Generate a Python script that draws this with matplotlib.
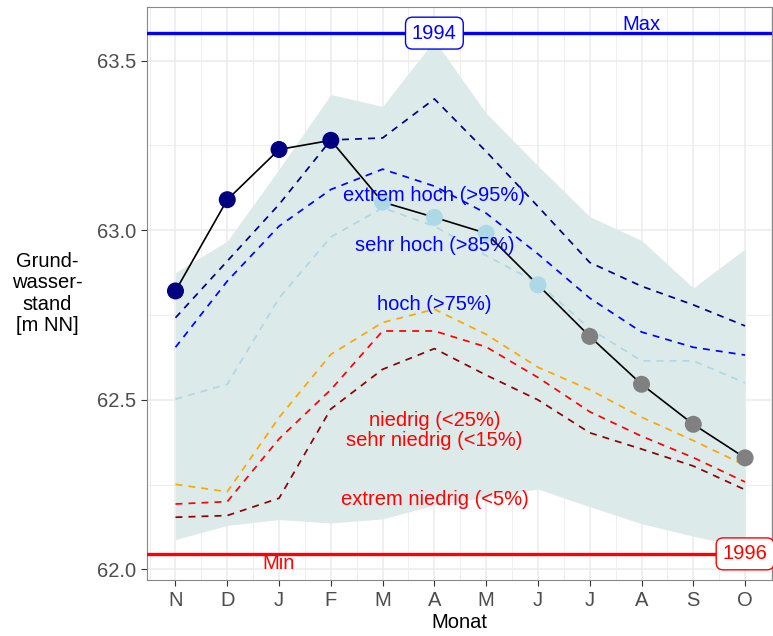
import matplotlib.pyplot as plt
import numpy as np

plt.rcParams['font.family'] = ['Liberation Sans', 'DejaVu Sans']

# Abflussjahr Nov - Okt
monate = ['N', 'D', 'J', 'F', 'M', 'A', 'M', 'J', 'J', 'A', 'S', 'O']

# gemessener Grundwasserstand [m NN] und Einstufung je Monat
gemessen = [62.821, 63.090, 63.238, 63.265, 63.083, 63.038,
            62.991, 62.839, 62.687, 62.546, 62.428, 62.329]
klasse = ['extrem hoch', 'extrem hoch', 'extrem hoch', 'extrem hoch',
          'hoch', 'hoch', 'hoch', 'hoch',
          'normal', 'normal', 'normal', 'normal']

# Spannweite der Monatswerte (Min/Max)
band_max = [62.875, 62.968, 63.180, 63.400, 63.365, 63.560,
            63.345, 63.190, 63.040, 62.970, 62.830, 62.945]
band_min = [62.088, 62.130, 62.147, 62.137, 62.149, 62.190,
            62.213, 62.237, 62.185, 62.135, 62.098, 62.065]

# Perzentile
p95 = [62.742, 62.909, 63.076, 63.266, 63.272, 63.387,
       63.232, 63.070, 62.905, 62.835, 62.780, 62.718]
p85 = [62.655, 62.850, 63.012, 63.120, 63.180, 63.130,
       63.050, 62.930, 62.800, 62.700, 62.655, 62.632]
p75 = [62.502, 62.546, 62.800, 62.980, 63.066, 63.012,
       62.925, 62.845, 62.710, 62.615, 62.615, 62.550]
p25 = [62.251, 62.229, 62.448, 62.634, 62.728, 62.767,
       62.693, 62.596, 62.530, 62.449, 62.380, 62.307]
p15 = [62.193, 62.200, 62.385, 62.530, 62.703, 62.703,
       62.656, 62.566, 62.465, 62.393, 62.330, 62.258]
p05 = [62.154, 62.159, 62.210, 62.473, 62.590, 62.651,
       62.573, 62.500, 62.403, 62.355, 62.305, 62.235]

# historische Extremwerte
hist_max, hist_max_jahr = 63.581, '1994'
hist_min, hist_min_jahr = 62.046, '1996'

klassen_farben = {'extrem hoch': '#000080', 'hoch': '#add8e6', 'normal': '#808080'}

fig = plt.figure(figsize=(7.73, 6.36), dpi=100)
ax = fig.add_axes([147 / 773, 1 - 580 / 636, (772 - 147) / 773, (580 - 7) / 636])

x = np.arange(len(monate))
ax.fill_between(x, band_min, band_max, color='#dcebea', lw=0, zorder=1)

perzentile = [p95, p85, p75, p25, p15, p05]
farben = ['#000080', '#0000ff', '#add8e6', '#ffa500', '#ff0000', '#8b0000']
for werte, farbe in zip(perzentile, farben):
    ax.plot(x, werte, color=farbe, lw=1.25, ls=(0, (4, 3.5)), zorder=2)

ax.axhline(hist_max, color='#0000ff', lw=2.4, zorder=3)
ax.axhline(hist_min, color='#ff0000', lw=2.4, zorder=3)

ax.plot(x, gemessen, color='black', lw=1.2, zorder=4)
ax.scatter(x, gemessen, s=150, c=[klassen_farben[k] for k in klasse],
           lw=0, zorder=5)

# Beschriftung der Perzentilbereiche
beschriftung = [
    ('extrem hoch (>95%)', 63.102, '#0000ff'),
    ('sehr hoch (>85%)', 62.955, '#0000ff'),
    ('hoch (>75%)', 62.780, '#0000ff'),
    ('niedrig (<25%)', 62.440, '#ff0000'),
    ('sehr niedrig (<15%)', 62.380, '#ff0000'),
    ('extrem niedrig (<5%)', 62.207, '#ff0000'),
]
for text, y, farbe in beschriftung:
    ax.text(5, y, text, color=farbe, fontsize=14.5, ha='center', va='center', zorder=6)

ax.text(9, 63.607, 'Max', color='#0000ff', fontsize=14.5, ha='center', va='center', zorder=6)
ax.text(2, 62.017, 'Min', color='#ff0000', fontsize=14.5, ha='center', va='center', zorder=6)

ax.text(5, hist_max, hist_max_jahr, color='#0000ff', fontsize=14.5, ha='center', va='center',
        zorder=7, bbox=dict(boxstyle='round,pad=0.32,rounding_size=0.35', fc='white',
                            ec='#0000ff', lw=1))
ax.text(11, hist_min, hist_min_jahr, color='#ff0000', fontsize=14.5, ha='center', va='center',
        zorder=7, bbox=dict(boxstyle='round,pad=0.32,rounding_size=0.35', fc='white',
                            ec='#ff0000', lw=1))

ax.set_xlim(-0.55, 11.52)
ax.set_ylim(61.969, 63.658)
ax.set_xticks(x)
ax.set_xticklabels(monate)
ax.set_xticks(np.arange(-0.5, 12, 1), minor=True)
ax.set_yticks([62.0, 62.5, 63.0, 63.5])
ax.set_yticks([62.25, 62.75, 63.25], minor=True)
ax.set_axisbelow(True)
ax.grid(which='major', color='#ebebeb', lw=1.1)
ax.grid(which='minor', color='#ebebeb', lw=0.6)
ax.tick_params(which='major', length=4, width=0.8, color='#333333',
               labelsize=14.5, labelcolor='#4d4d4d', pad=4)
ax.tick_params(which='minor', length=0)
for spine in ax.spines.values():
    spine.set_color('#888888')
    spine.set_linewidth(0.8)

ax.set_ylabel('Grund-\nwasser-\nstand\n[m NN]', rotation=0, fontsize=14.5,
              ha='center', va='center', linespacing=1.15)
ax.yaxis.set_label_coords(-0.16, 0.5)
ax.set_xlabel('Monat', fontsize=14.5, va='center')
ax.xaxis.set_label_coords(0.5, (580 - 622) / 573)

fig.savefig('out.png', dpi=100)
